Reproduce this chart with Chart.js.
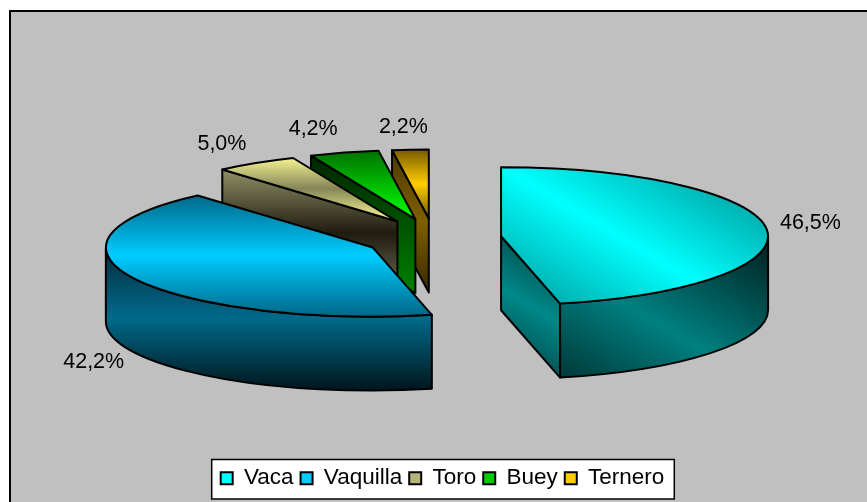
<!DOCTYPE html>
<html>
<head>
<meta charset="utf-8">
<style>
    html, body { margin: 0; padding: 0; background: #fff; }
    canvas { display: block; }
</style>
<script src="https://cdn.jsdelivr.net/npm/chart.js@4"></script>
</head>
<body>
<canvas id="chart" width="867" height="502"></canvas>
<script>
const categories = ['Vaca', 'Vaquilla', 'Toro', 'Buey', 'Ternero'];
const shares = [46.5, 42.2, 5.0, 4.2, 2.2];
const baseColors = ['#00FFFF', '#00CCFF', '#B4B47A', '#00CC00', '#FFCC00'];

// Как выглядит псевдо-3D: сжатие эллипса, высота и разнос секторов
const SQUASH = 0.2585;
const DEPTH = 74;
const EXPLODE_X = 68;
const EXPLODE_Y = 20;
const FONT_FAMILY = '"Liberation Sans", Arial, sans-serif';

// Градиенты: [x0, y0, x1, y1, цвета...]
const faceStyles = [
    {
        top: [549, 311, 651, 139, '#00A8A8', '#00FFFF', '#00A8A8'],
        wall: [610, 450, 745, 220, '#001C1C', '#008080', '#001C1C'],
        side: [500, 357, 560, 253, '#004A4A', '#008888', '#004A4A']
    },
    {
        top: [0, 193, 0, 318, '#006484', '#00CCFF', '#006484'],
        wall: [0, 248, 0, 388, '#002C3C', '#006A8A', '#001820'],
        side: [0, 248, 0, 388, '#002C3C', '#006A8A', '#001820']
    },
    {
        top: [0, 155, 0, 222, '#FFFF99', '#858558', '#FFFF99'],
        wall: [0, 170, 0, 296, '#8F8F66', '#1F1B10', '#77775A'],
        side: [0, 170, 0, 296, '#8F8F66', '#1F1B10', '#77775A']
    },
    {
        top: [0, 150, 0, 217, '#007000', '#00FF00'],
        wall: [0, 155, 0, 292, '#002400', '#008000'],
        side: [0, 155, 0, 292, '#002400', '#008000']
    },
    {
        top: [0, 150, 0, 218, '#7A5C00', '#FFCC00', '#7A5C00'],
        wall: [0, 150, 0, 293, '#4A3800', '#806000', '#362800'],
        side: [0, 150, 0, 293, '#4A3800', '#806000', '#362800']
    }
];

// Цвета значков легенды (сверху вниз)
const swatchStops = [
    ['#00C0C0', '#00FFFF', '#00C0C0'],
    ['#0090B8', '#00CCFF', '#0090B8'],
    ['#D8D890', '#808060', '#D8D890'],
    ['#00A000', '#00DD00', '#00A000'],
    ['#C09000', '#FFCC00', '#C09000']
];

// Сдвиг подписи от края сектора
const labelNudges = [[44, -6], [-41, 83], [-34, -19], [-31, -24], [-7, -23]];

function makeGradient(ctx, spec) {
    const g = ctx.createLinearGradient(spec[0], spec[1], spec[2], spec[3]);
    const colors = spec.slice(4);
    colors.forEach((c, i) => g.addColorStop(i / (colors.length - 1), c));
    return g;
}

function paint(ctx, spec) {
    ctx.fillStyle = makeGradient(ctx, spec);
    ctx.fill();
    ctx.stroke();
}

function sliceCenter(arc) {
    const mid = (arc.startAngle + arc.endAngle) / 2;
    return {
        x: arc.x + Math.cos(mid) * EXPLODE_X,
        y: arc.y + Math.sin(mid) * EXPLODE_Y
    };
}

function drawSide(ctx, c, rx, ry, angle, spec) {
    const ex = c.x + Math.cos(angle) * rx;
    const ey = c.y + Math.sin(angle) * ry;
    ctx.beginPath();
    ctx.moveTo(c.x, c.y);
    ctx.lineTo(ex, ey);
    ctx.lineTo(ex, ey + DEPTH);
    ctx.lineTo(c.x, c.y + DEPTH);
    ctx.closePath();
    paint(ctx, spec);
}

function drawSlice(ctx, arc, style) {
    const c = sliceCenter(arc);
    const rx = arc.outerRadius;
    const ry = rx * SQUASH;
    const start = arc.startAngle;
    const end = arc.endAngle;

    // Боковые грани рисуем только если они смотрят на зрителя
    if (Math.cos(start) < 0) drawSide(ctx, c, rx, ry, start, style.side);
    if (Math.cos(end) > 0) drawSide(ctx, c, rx, ry, end, style.side);

    // Внешняя стенка видна только на нижней половине эллипса
    const wallFrom = Math.max(start, 0);
    const wallTo = Math.min(end, Math.PI);
    if (wallTo > wallFrom) {
        ctx.beginPath();
        ctx.ellipse(c.x, c.y, rx, ry, 0, wallFrom, wallTo);
        ctx.ellipse(c.x, c.y + DEPTH, rx, ry, 0, wallTo, wallFrom, true);
        ctx.closePath();
        paint(ctx, style.wall);
    }

    ctx.beginPath();
    ctx.moveTo(c.x, c.y);
    ctx.ellipse(c.x, c.y, rx, ry, 0, start, end);
    ctx.closePath();
    paint(ctx, style.top);
}

const pie3d = {
    id: 'pie3d',
    afterLayout(chart) {
        // Легенда в оригинале смещена вправо и чуть ниже
        const legend = chart.legend;
        const dy = 460 - legend.top;
        legend.top += dy;
        legend.bottom += dy;
        legend.left += 9;
        legend.right += 9;
        legend.adjustHitBoxes();
    },
    beforeDraw(chart) {
        const ctx = chart.ctx;
        ctx.save();
        ctx.fillStyle = '#C0C0C0';
        ctx.fillRect(10, 11, chart.width, chart.height);
        ctx.strokeStyle = '#000';
        ctx.lineWidth = 2;
        ctx.beginPath();
        ctx.moveTo(10, chart.height);
        ctx.lineTo(10, 11);
        ctx.lineTo(chart.width, 11);
        ctx.stroke();

        // Рамка легенды
        const boxes = chart.legend.legendHitBoxes;
        const first = boxes[0];
        const last = boxes[boxes.length - 1];
        const left = first.left - 9;
        const right = last.left + last.width + 10;
        ctx.fillStyle = '#fff';
        ctx.lineWidth = 1.5;
        ctx.beginPath();
        ctx.rect(left, 459.5, right - left, 39.5);
        ctx.fill();
        ctx.stroke();
        ctx.restore();
    },
    beforeDatasetDraw(chart, args) {
        const ctx = chart.ctx;
        const arcs = chart.getDatasetMeta(args.index).data;
        ctx.save();
        ctx.strokeStyle = '#000';
        ctx.lineWidth = 2;
        ctx.lineJoin = 'round';
        // Сзади вперёд: от мелких секторов к крупным
        for (let i = arcs.length - 1; i >= 0; i--) {
            drawSlice(ctx, arcs[i], faceStyles[i]);
        }
        // Подписи с процентами
        ctx.fillStyle = '#000';
        ctx.font = '21.5px ' + FONT_FAMILY;
        ctx.textAlign = 'center';
        ctx.textBaseline = 'middle';
        arcs.forEach((arc, i) => {
            const c = sliceCenter(arc);
            const mid = (arc.startAngle + arc.endAngle) / 2;
            const x = c.x + Math.cos(mid) * arc.outerRadius + labelNudges[i][0];
            const y = c.y + Math.sin(mid) * arc.outerRadius * SQUASH + labelNudges[i][1];
            ctx.fillText(shares[i].toFixed(1).replace('.', ',') + '%', x, y);
        });
        ctx.restore();
        return false;
    },
    afterDraw(chart) {
        // Значки легенды с градиентом поверх обычных
        const ctx = chart.ctx;
        ctx.save();
        ctx.strokeStyle = '#000';
        ctx.lineWidth = 2;
        chart.legend.legendHitBoxes.forEach((hit, i) => {
            const y = hit.top + Math.floor((hit.height - 12) / 2);
            ctx.beginPath();
            ctx.rect(hit.left, y, 12, 12);
            paint(ctx, [0, y, 0, y + 12].concat(swatchStops[i]));
        });
        ctx.restore();
    }
};

new Chart(document.getElementById('chart').getContext('2d'), {
    type: 'pie',
    data: {
        labels: categories,
        datasets: [{
            data: shares,
            backgroundColor: baseColors,
            borderColor: '#000',
            borderWidth: 2
        }]
    },
    options: {
        responsive: false,
        animation: false,
        radius: 267,
        layout: { padding: { top: 14.5 } },
        plugins: {
            tooltip: { enabled: false },
            legend: {
                position: 'bottom',
                labels: {
                    boxWidth: 12,
                    boxHeight: 12,
                    padding: 7,
                    color: '#000',
                    font: { family: FONT_FAMILY, size: 22.5 }
                }
            }
        }
    },
    plugins: [pie3d]
});
</script>
</body>
</html>
